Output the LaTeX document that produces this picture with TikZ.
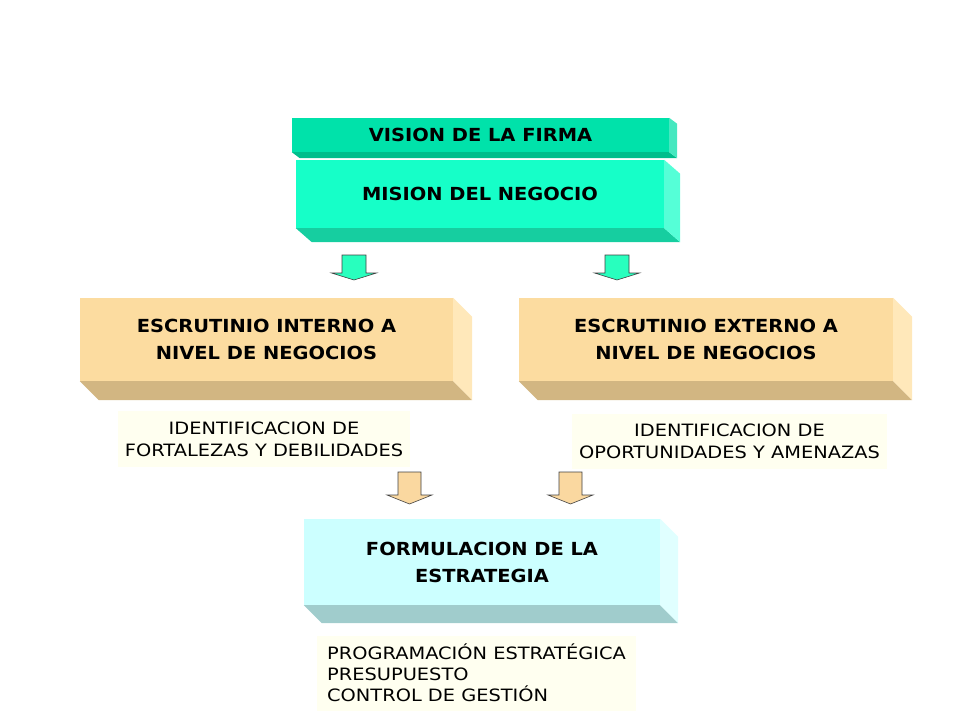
\documentclass[tikz,border=0pt]{standalone}
\usepackage{fontspec}
\setmainfont{DejaVu Sans}
\newfontfamily\titulo{DejaVu Sans Bold}[FakeStretch=1.08]
\newfontfamily\texto{DejaVu Sans}[FakeStretch=1.14]
\usetikzlibrary{positioning}

\definecolor{visionfront}{RGB}{0,226,170}
\definecolor{visionbottom}{RGB}{0,190,140}
\definecolor{visionside}{RGB}{70,232,192}
\definecolor{misionfront}{RGB}{22,255,200}
\definecolor{misionbottom}{RGB}{22,206,160}
\definecolor{misionside}{RGB}{85,255,215}
\definecolor{escfront}{RGB}{252,220,160}
\definecolor{escbottom}{RGB}{210,182,130}
\definecolor{escside}{RGB}{255,232,186}
\definecolor{formfront}{RGB}{204,255,255}
\definecolor{formbottom}{RGB}{160,204,204}
\definecolor{formside}{RGB}{224,255,255}
\definecolor{notafondo}{RGB}{255,255,240}
\definecolor{flechaverde}{RGB}{40,255,190}
\definecolor{flechanaranja}{RGB}{250,216,160}

% caras de abajo y derecha de una caja
\newcommand{\caja}[5]{%
	\fill[#4] (#1.south west) -- (#1.south east) -- ([shift={(#2,#3)}]#1.south east) -- ([shift={(#2,#3)}]#1.south west) -- cycle;
	\fill[#5] (#1.north east) -- ([shift={(#2,#3)}]#1.north east) -- ([shift={(#2,#3)}]#1.south east) -- (#1.south east) -- cycle;
}

\begin{document}
\begin{tikzpicture}[x=1pt,y=-1pt,
	frente/.style={inner sep=0pt,align=center,font=\fontsize{18}{27}\selectfont\titulo},
	nota/.style={fill=notafondo,inner sep=0pt,align=center,font=\fontsize{17}{22}\selectfont\texto},
	flecha/.style={draw=black!75,line width=0.6pt,line join=miter}]
	
	\useasboundingbox (0,0) rectangle (960,720);
	
	\node[frente,fill=visionfront,minimum width=377pt,minimum height=34pt] (vision) at (480.5,135) {VISION DE LA FIRMA};
	\caja{vision}{8}{6}{visionbottom}{visionside}
	
	\node[frente,fill=misionfront,minimum width=368pt,minimum height=68pt] (mision) at (480,194) {MISION DEL NEGOCIO};
	\caja{mision}{16}{14}{misionbottom}{misionside}
	
	\node[frente,fill=escfront,minimum width=373pt,minimum height=83pt] (interno) at (266.5,339.5) {ESCRUTINIO INTERNO A\\NIVEL DE NEGOCIOS};
	\caja{interno}{19}{19}{escbottom}{escside}
	
	\node[frente,fill=escfront,minimum width=374pt,minimum height=83pt] (externo) at (706,339.5) {ESCRUTINIO EXTERNO A\\NIVEL DE NEGOCIOS};
	\caja{externo}{19}{19}{escbottom}{escside}
	
	\node[frente,fill=formfront,minimum width=356pt,minimum height=86pt] (formulacion) at (482,562) {FORMULACION DE LA\\ESTRATEGIA};
	\caja{formulacion}{18}{18}{formbottom}{formside}
	
	\node[nota,minimum width=292pt,minimum height=56pt] (fortalezas) at (264,439) {IDENTIFICACION DE\\FORTALEZAS Y DEBILIDADES};
	\node[nota,minimum width=315pt,minimum height=55pt] (oportunidades) at (729.5,441.5) {IDENTIFICACION DE\\OPORTUNIDADES Y AMENAZAS};
	\node[nota,align=left,anchor=west,inner xsep=10pt,minimum width=313pt,minimum height=75pt,font=\fontsize{17}{21}\selectfont\texto] (programacion) at (317,673) {PROGRAMACIÓN ESTRATÉGICA\\PRESUPUESTO\\CONTROL DE GESTIÓN};
	
	\foreach \x in {354,617}{
		\draw[flecha,fill=flechaverde] (\x-12,255) -- (\x+12,255) -- (\x+12,273) -- (\x+22.5,273) -- (\x,280) -- (\x-22.5,273) -- (\x-12,273) -- cycle;
	}
	\foreach \x in {409.5,570.5}{
		\draw[flecha,fill=flechanaranja] (\x-11.5,472) -- (\x+11.5,472) -- (\x+11.5,495) -- (\x+22.5,495) -- (\x,504) -- (\x-22.5,495) -- (\x-11.5,495) -- cycle;
	}
\end{tikzpicture}
\end{document}
